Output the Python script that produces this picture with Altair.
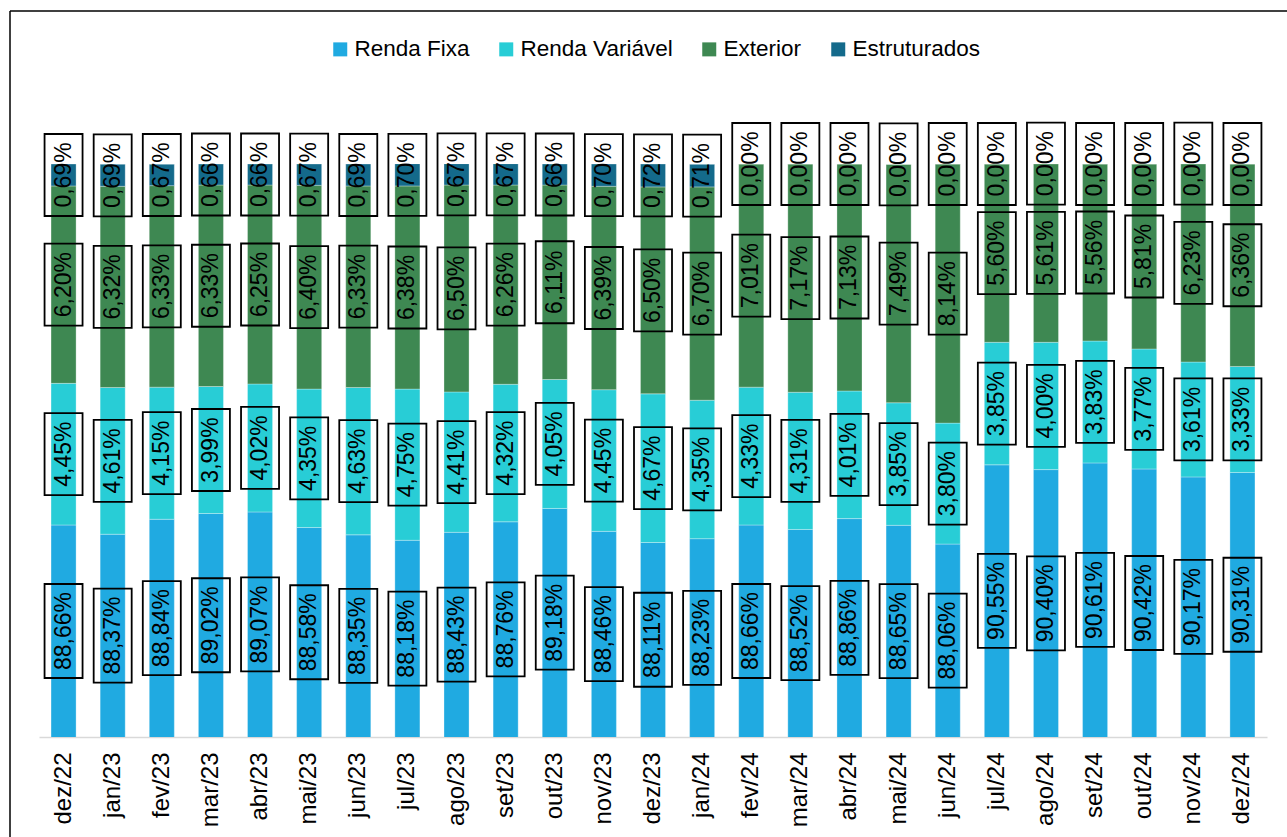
import altair as alt
import pandas as pd

# Monthly portfolio allocation (% of total)
months = ["dez/22", "jan/23", "fev/23", "mar/23", "abr/23", "mai/23", "jun/23",
          "jul/23", "ago/23", "set/23", "out/23", "nov/23", "dez/23", "jan/24",
          "fev/24", "mar/24", "abr/24", "mai/24", "jun/24", "jul/24", "ago/24",
          "set/24", "out/24", "nov/24", "dez/24"]

renda_fixa = [88.66, 88.37, 88.84, 89.02, 89.07, 88.58, 88.35, 88.18, 88.43,
              88.76, 89.18, 88.46, 88.11, 88.23, 88.66, 88.52, 88.86, 88.65,
              88.06, 90.55, 90.40, 90.61, 90.42, 90.17, 90.31]
renda_variavel = [4.45, 4.61, 4.15, 3.99, 4.02, 4.35, 4.63, 4.75, 4.41, 4.32,
                  4.05, 4.45, 4.67, 4.35, 4.33, 4.31, 4.01, 3.85, 3.80, 3.85,
                  4.00, 3.83, 3.77, 3.61, 3.33]
exterior = [6.20, 6.32, 6.33, 6.33, 6.25, 6.40, 6.33, 6.38, 6.50, 6.26, 6.11,
            6.39, 6.50, 6.70, 7.01, 7.17, 7.13, 7.49, 8.14, 5.60, 5.61, 5.56,
            5.81, 6.23, 6.36]
estruturados = [0.69, 0.69, 0.67, 0.66, 0.66, 0.67, 0.69, 0.70, 0.67, 0.67,
                0.66, 0.70, 0.72, 0.71, 0.00, 0.00, 0.00, 0.00, 0.00, 0.00,
                0.00, 0.00, 0.00, 0.00, 0.00]

series_names = ["Renda Fixa", "Renda Variável", "Exterior", "Estruturados"]
series_colors = ["#20AAE1", "#28CDD6", "#3E8852", "#146A8B"]

# Visible value range of the vertical scale
Y_MIN, Y_MAX = 82, 100

FONT = "Liberation Sans"

rows = []
for i, mes in enumerate(months):
    for k, vals in enumerate([renda_fixa, renda_variavel, exterior, estruturados]):
        rows.append({"mes": mes, "serie": series_names[k], "ordem": k, "valor": vals[i]})
df = pd.DataFrame(rows)

base = (
    alt.Chart(df)
    .transform_stack(stack="valor", groupby=["mes"], as_=["v0", "v1"],
                     sort=[alt.SortField("ordem", order="ascending")])
    .transform_calculate(meio=f"(max(datum.v0, {Y_MIN}) + datum.v1) / 2")
    .transform_calculate(rotulo="replace(format(datum.valor, '.2f'), '.', ',') + '%'")
)

x_enc = alt.X(
    "mes:N", sort=months, title=None,
    scale=alt.Scale(paddingInner=0.49, paddingOuter=0.245),
    axis=alt.Axis(labelAngle=-90, labelFontSize=24, labelFont=FONT, labelColor="#000000",
                  labelPadding=15, ticks=False, domainColor="#d9d9d9", domainWidth=1.5,
                  grid=False),
)
y_scale = alt.Scale(domain=[Y_MIN, Y_MAX], nice=False, zero=False)

bars = base.mark_bar(clip=True, stroke="#ffffff", strokeWidth=0.6, strokeOpacity=0.5).encode(
    x=x_enc,
    y=alt.Y("v0:Q", scale=y_scale, axis=None),
    y2="v1:Q",
    color=alt.Color(
        "serie:N",
        scale=alt.Scale(domain=series_names, range=series_colors),
        legend=alt.Legend(title=None, orient="none", legendX=290, legendY=-126,
                          direction="horizontal", columns=4, symbolType="square",
                          symbolSize=196, symbolStrokeWidth=0, labelFontSize=22.5,
                          labelFont=FONT, labelColor="#000000", columnPadding=25,
                          labelOffset=3),
    ),
)

# Outlined boxes behind each value label (taller for six-character labels)
boxes = []
for n_chars, (h, w) in {5: (82, 38), 6: (94, 38)}.items():
    r = w / h
    path = f"M{-r:.4f},-1L{r:.4f},-1L{r:.4f},1L{-r:.4f},1Z"
    boxes.append(
        base.transform_filter(f"length(datum.rotulo) == {n_chars}")
        .mark_point(shape=path, size=h * h, filled=False, stroke="#000000",
                    strokeWidth=1.8, opacity=1)
        .encode(x=x_enc, y=alt.Y("meio:Q", scale=y_scale, axis=None))
    )

labels = base.mark_text(angle=270, font=FONT, fontSize=23, color="#000000",
                        align="center", baseline="middle").encode(
    x=x_enc,
    y=alt.Y("meio:Q", scale=y_scale, axis=None),
    text="rotulo:N",
)

# Outer frame around the chart
frame_data = alt.Data(values=[{}])
frame_left = alt.Chart(frame_data).mark_rule(color="#000000", strokeWidth=1.5).encode(
    x=alt.value(-29), y=alt.value(-153), y2=alt.value(700))
frame_top = alt.Chart(frame_data).mark_rule(color="#000000", strokeWidth=1.5).encode(
    x=alt.value(-29), x2=alt.value(1260), y=alt.value(-153))

chart = (
    alt.layer(bars, *boxes, labels, frame_left, frame_top)
    .properties(width=1228, height=573, autosize="none",
                padding={"left": 39, "top": 164, "right": 20, "bottom": 100})
    .configure_view(stroke=None)
)

chart.save("out.html", embed_options={"renderer": "svg", "actions": False})
